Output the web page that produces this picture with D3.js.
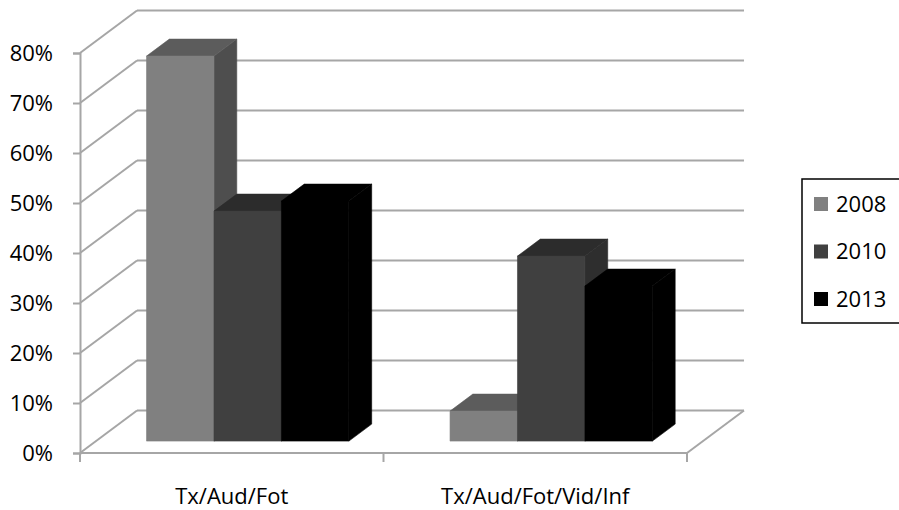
<!DOCTYPE html>
<html>
<head>
<meta charset="utf-8">
<script src="https://cdn.jsdelivr.net/npm/d3@7"></script>
<style>
  html, body { margin: 0; padding: 0; background: #fff; }
  svg { display: block; }
  text { font-family: "Open Sans", "Noto Sans", sans-serif; fill: #000; }
</style>
</head>
<body>
<svg id="chart" width="899" height="510"></svg>
<script>
// Share of usage by content type, per survey year
const categories = ["Tx/Aud/Fot", "Tx/Aud/Fot/Vid/Inf"];
const years = ["2008", "2010", "2013"];
const values2008 = [0.77, 0.06];
const values2010 = [0.46, 0.37];
const values2013 = [0.48, 0.31];
const yTicks = [0, 0.1, 0.2, 0.3, 0.4, 0.5, 0.6, 0.7, 0.8];

const seriesValues = { "2008": values2008, "2010": values2010, "2013": values2013 };
const faceColors = {
  "2008": { front: "#808080", top: "#5c5c5c", side: "#4e4e4e" },
  "2010": { front: "#404040", top: "#2c2c2c", side: "#2e2e2e" },
  "2013": { front: "#000000", top: "#000000", side: "#000000" }
};

const svg = d3.select("#chart");
const gridColor = "#a6a6a6";
const fontSize = 22;

// Front plane scales
const x0 = d3.scaleBand().domain(categories).range([80, 687]).paddingInner(0).paddingOuter(0);
const y = d3.scaleLinear().domain([0, 0.8]).range([453, 53]);

// Oblique depth projection: t = 0 is the front plane, t = 1 the back wall
const DX = 57, DY = 42.5;
const proj = (px, py, t) => [px + t * DX, py - t * DY];

// Bars occupy a slab inside the depth
const tFront = 0.28, tBack = 0.68;

const grid = svg.append("g");

// Back wall gridlines and left-wall diagonals
yTicks.forEach(v => {
  const [bx, by] = proj(x0.range()[0], y(v), 1);
  const [ex] = proj(x0.range()[1], y(v), 1);
  grid.append("line").attr("x1", bx).attr("y1", by).attr("x2", ex).attr("y2", by)
    .attr("stroke", gridColor).attr("stroke-width", 2);
  grid.append("line").attr("x1", x0.range()[0]).attr("y1", y(v)).attr("x2", bx).attr("y2", by)
    .attr("stroke", gridColor).attr("stroke-width", 2);
});

// Floor: right edge
{
  const xr = x0.range()[1];
  const [bx, by] = proj(xr, y(0), 1);
  grid.append("line").attr("x1", xr).attr("y1", y(0)).attr("x2", bx).attr("y2", by)
    .attr("stroke", gridColor).attr("stroke-width", 2);
}

// Value axis on the front plane
const yAxis = d3.axisLeft(y).tickValues(yTicks).tickSize(7).tickPadding(20)
  .tickFormat(d3.format(".0%"));
const yAxisG = svg.append("g").attr("transform", "translate(80,0)").call(yAxis);
yAxisG.select(".domain").attr("stroke", gridColor).attr("stroke-width", 2);
yAxisG.selectAll(".tick line").attr("stroke", gridColor).attr("stroke-width", 2);
yAxisG.selectAll(".tick text").attr("font-size", fontSize).attr("fill", "#000")
  .style("font-family", "'Open Sans', sans-serif");

// Category axis on the front plane, ticks at category boundaries
const xAxisG = svg.append("g");
xAxisG.append("line").attr("x1", x0.range()[0]).attr("x2", x0.range()[1])
  .attr("y1", y(0)).attr("y2", y(0)).attr("stroke", gridColor).attr("stroke-width", 2);
const bounds = categories.map(c => x0(c)).concat([x0.range()[1]]);
xAxisG.selectAll("line.tick").data(bounds).join("line").attr("class", "tick")
  .attr("x1", d => d).attr("x2", d => d).attr("y1", y(0)).attr("y2", y(0) + 9)
  .attr("stroke", gridColor).attr("stroke-width", 2);
xAxisG.selectAll("text").data(categories).join("text")
  .attr("x", d => x0(d) + x0.bandwidth() / 2).attr("y", 504)
  .attr("text-anchor", "middle").attr("font-size", fontSize).text(d => d);

// Bars: front, top and right side faces
const x1 = d3.scaleBand().domain(years).range([0, x0.bandwidth()]).paddingInner(0).paddingOuter(0.75);
const pts = arr => arr.map(p => p.join(",")).join(" ");
const barsG = svg.append("g");

categories.forEach((cat, ci) => {
  years.forEach(yr => {
    const v = seriesValues[yr][ci];
    const xl = x0(cat) + x1(yr), xr = xl + x1.bandwidth();
    const fbl = proj(xl, y(0), tFront), fbr = proj(xr, y(0), tFront);
    const ftl = proj(xl, y(v), tFront), ftr = proj(xr, y(v), tFront);
    const btl = proj(xl, y(v), tBack), btr = proj(xr, y(v), tBack);
    const bbr = proj(xr, y(0), tBack);
    const c = faceColors[yr];
    const g = barsG.append("g");
    g.append("polygon").attr("points", pts([ftr, btr, bbr, fbr]))
      .attr("fill", c.side).attr("stroke", c.side).attr("stroke-width", 0.6);
    g.append("polygon").attr("points", pts([ftl, btl, btr, ftr]))
      .attr("fill", c.top).attr("stroke", c.top).attr("stroke-width", 0.6);
    g.append("polygon").attr("points", pts([fbl, ftl, ftr, fbr]))
      .attr("fill", c.front).attr("stroke", c.front).attr("stroke-width", 0.6);
  });
});

// Legend
const legend = svg.append("g");
legend.append("rect").attr("x", 802).attr("y", 179).attr("width", 120).attr("height", 144)
  .attr("fill", "#fff").attr("stroke", "#000").attr("stroke-width", 1.5);
const ly = d3.scalePoint().domain(years).range([204, 299]);
years.forEach(yr => {
  legend.append("rect").attr("x", 814).attr("y", ly(yr) - 7).attr("width", 14).attr("height", 14)
    .attr("fill", faceColors[yr].front);
  legend.append("text").attr("x", 836).attr("y", ly(yr)).attr("dy", "0.36em")
    .attr("font-size", fontSize).text(yr);
});
</script>
</body>
</html>
